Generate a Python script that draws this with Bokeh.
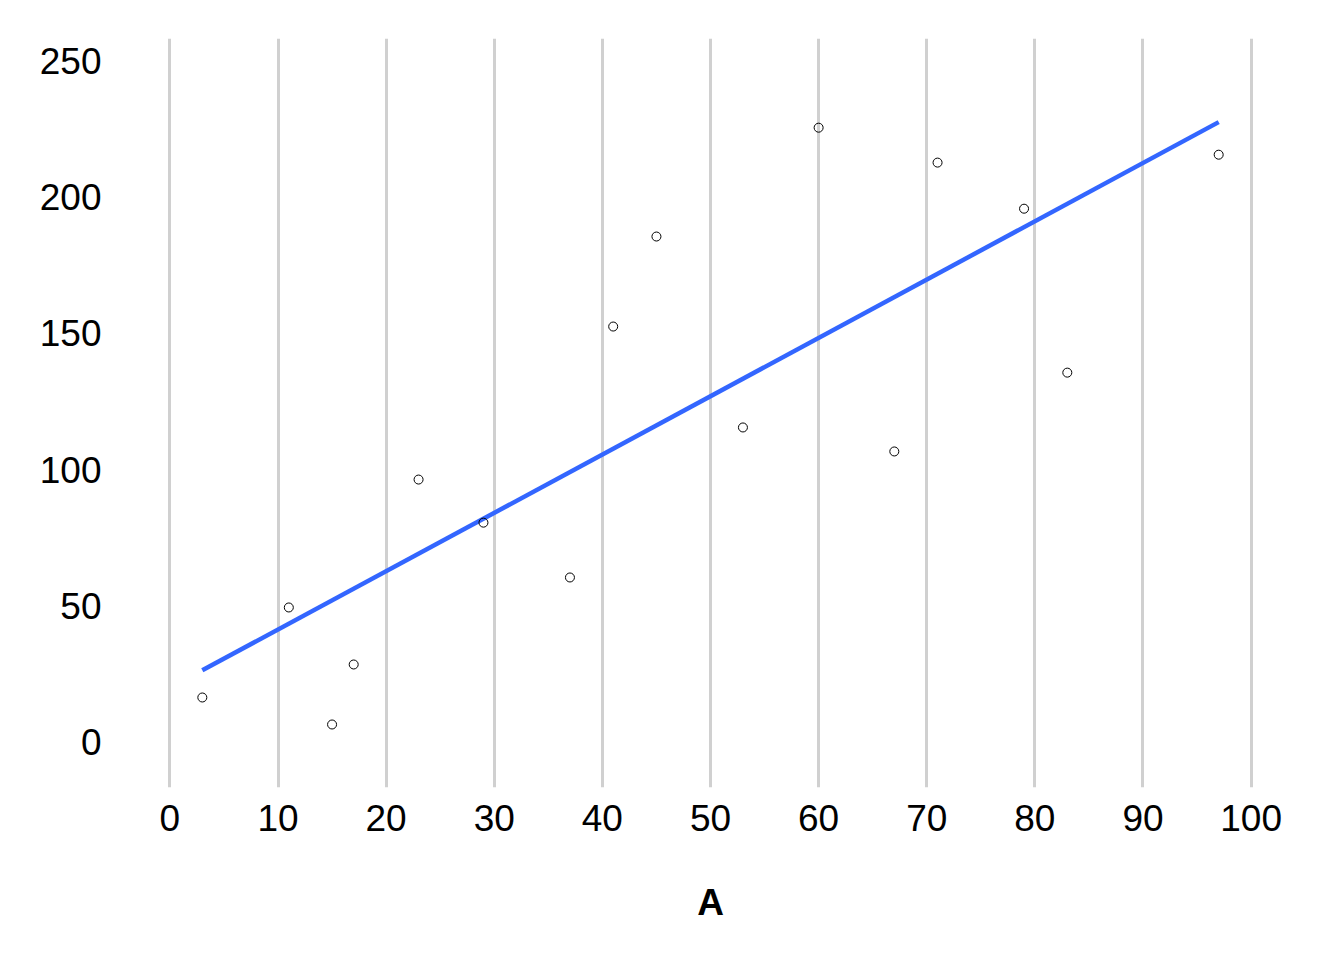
import numpy as np
from bokeh.plotting import figure
from bokeh.models import FixedTicker, Range1d
from bokeh.embed import file_html
from bokeh.resources import INLINE

x_vals = [3, 11, 15, 17, 23, 29, 37, 41, 45, 53, 60, 67, 71, 79, 83, 97]
y_vals = [16.5, 49.5, 6.6, 28.6, 96.4, 80.6, 60.5, 152.5, 185.5, 115.5,
          225.4, 106.7, 212.6, 195.7, 135.6, 215.5]
x_ticks = [0, 10, 20, 30, 40, 50, 60, 70, 80, 90, 100]
y_ticks = [0, 50, 100, 150, 200, 250]
x_title = "A"

slope, intercept = np.polyfit(x_vals, y_vals, 1)
fit_x = [min(x_vals), max(x_vals)]
fit_y = [intercept + slope * v for v in fit_x]

p = figure(width=1328, height=944, output_backend="svg", toolbar_location=None,
           x_range=Range1d(-1.7, 101.7), y_range=Range1d(-16.5, 258.1),
           min_border_left=151, min_border_right=59, min_border_top=38,
           min_border_bottom=157)
p.outline_line_color = None
p.background_fill_color = "white"
p.border_fill_color = "white"

p.xgrid.grid_line_color = "#d0d0d0"
p.xgrid.grid_line_width = 3
p.ygrid.grid_line_color = None

font = "Liberation Sans"
for ax in (p.xaxis[0], p.yaxis[0]):
    ax.axis_line_color = None
    ax.major_tick_line_color = None
    ax.minor_tick_line_color = None
    ax.major_tick_out = 0
    ax.major_tick_in = 0
    ax.major_label_text_font = font
    ax.major_label_text_font_size = "37px"
    ax.major_label_text_color = "black"

p.xaxis[0].ticker = FixedTicker(ticks=x_ticks)
p.yaxis[0].ticker = FixedTicker(ticks=y_ticks)
p.xaxis[0].major_label_standoff = 17
p.yaxis[0].major_label_standoff = 50
p.xaxis[0].axis_label = x_title
p.xaxis[0].axis_label_text_font = font
p.xaxis[0].axis_label_text_font_size = "37px"
p.xaxis[0].axis_label_text_font_style = "bold"
p.xaxis[0].axis_label_text_color = "black"
p.xaxis[0].axis_label_standoff = 48

p.line(fit_x, fit_y, line_color="#3366FF", line_width=4.5)
p.scatter(x_vals, y_vals, size=9, fill_color="white", fill_alpha=0,
          line_color="black", line_width=1)

open("out.html", "w").write(file_html(p, INLINE))
